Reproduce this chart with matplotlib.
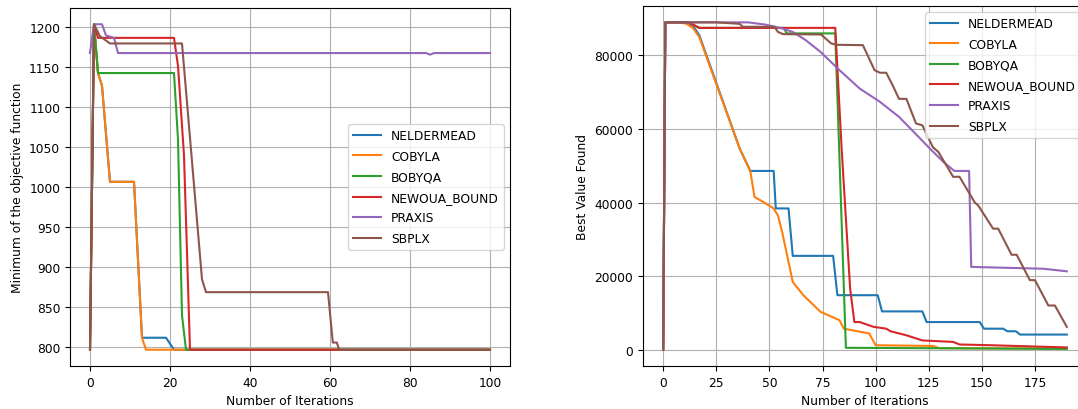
import matplotlib
matplotlib.use("Agg")
import matplotlib.pyplot as plt

names = ["NELDERMEAD", "COBYLA", "BOBYQA", "NEWOUA_BOUND", "PRAXIS", "SBPLX"]

# ---- Left chart: Minimum of the objective function ----
l_nm_x = [0, 1, 2, 3, 5, 11, 13, 19, 21, 100]
l_nm_y = [797, 1204, 1143, 1127, 1007, 1007, 812, 812, 797, 797]
l_co_x = [0, 1, 2, 3, 5, 11, 13, 14, 100]
l_co_y = [797, 1204, 1143, 1127, 1007, 1007, 812, 797, 797]
l_bo_x = [0, 1, 2, 21, 22, 23, 24, 100]
l_bo_y = [797, 1204, 1143, 1143, 1060, 840, 797, 797]
l_ne_x = [0, 1, 2, 21, 22, 23.5, 25, 100]
l_ne_y = [797, 1204, 1187, 1187, 1152, 1040, 797, 797]
l_pr_x = [0, 1, 3, 4, 6, 7, 84, 85, 86, 100]
l_pr_y = [1168, 1204, 1204, 1190, 1187, 1168, 1168, 1166, 1168, 1168]
l_sb_x = [0, 1, 2.5, 5, 23, 28, 29, 59.5, 60.7, 61.7, 62.3, 100]
l_sb_y = [797, 1204, 1189, 1180, 1180, 885, 869, 869, 806, 806, 797, 797]

# ---- Right chart: Best Value Found ----
r_nm_x = [0, 1, 10, 14, 17, 36, 41, 52, 53, 59, 61, 80, 82, 101, 103, 122, 124,
          149, 151, 160, 162, 166, 168, 190]
r_nm_y = [0, 89000, 89000, 88100, 85500, 54700, 48600, 48600, 38400, 38400, 25500,
          25500, 14800, 14800, 10400, 10400, 7500, 7500, 5700, 5700, 5000, 5000,
          4100, 4100]
r_co_x = [0, 1, 8, 11, 14, 17, 36, 41, 43, 47, 52, 54, 56, 61, 66, 74, 83, 85, 97,
          100, 127, 130, 190]
r_co_y = [0, 89000, 89000, 88600, 87500, 85000, 54700, 48600, 41500, 40200, 38400,
          36500, 32000, 18400, 14800, 10300, 8000, 5700, 4400, 1200, 1000, 400, 300]
r_bo_x = [0, 1, 12, 17, 57, 58, 81, 86, 190]
r_bo_y = [0, 89000, 89000, 87500, 87500, 86000, 86000, 500, 200]
r_ne_x = [0, 1, 12, 17, 81, 84, 88, 90, 92.5, 99, 105, 107, 114.5, 122, 136.5,
          139.5, 154, 166, 190]
r_ne_y = [0, 89000, 89000, 87500, 87500, 54700, 16600, 7500, 7500, 6200, 5700,
          5000, 3900, 2500, 2100, 1400, 1200, 1000, 600]
r_pr_x = [0, 1, 40, 48, 55, 61, 67, 74, 83, 92.5, 102, 111, 121, 125.5, 132, 137,
          144, 145, 179, 190]
r_pr_y = [0, 89000, 89000, 88400, 87500, 86400, 84200, 81000, 76000, 71000, 67400,
          63300, 57400, 54700, 51000, 48600, 48600, 22500, 22000, 21300]
r_sb_x = [0, 1, 25, 36, 37.4, 52.4, 54, 56.4, 74.3, 79, 81.4, 94, 99.5, 102, 105,
          108, 111, 114.5, 119, 122, 127, 129.5, 136.5, 139.5, 146.7, 148.3, 155.3,
          157.7, 164, 166.4, 172.6, 175, 181.3, 184.4, 190]
r_sb_y = [0, 89000, 89000, 88600, 87800, 87800, 86400, 85800, 85700, 83300, 82900,
          82800, 76000, 75300, 75300, 71900, 68200, 68200, 61500, 61000, 55000,
          53800, 47000, 47000, 40000, 39200, 32900, 32900, 25800, 25800, 18900,
          18900, 12000, 12000, 6200]

left_series = [(l_nm_x, l_nm_y), (l_co_x, l_co_y), (l_bo_x, l_bo_y),
               (l_ne_x, l_ne_y), (l_pr_x, l_pr_y), (l_sb_x, l_sb_y)]
right_series = [(r_nm_x, r_nm_y), (r_co_x, r_co_y), (r_bo_x, r_bo_y),
                (r_ne_x, r_ne_y), (r_pr_x, r_pr_y), (r_sb_x, r_sb_y)]

plt.rcParams["font.size"] = 8.8

W, H = 1078, 410
fig = plt.figure(figsize=(W / 100, H / 100), dpi=100)
ax1 = fig.add_axes([70 / W, (H - 367) / H, 440 / W, 358 / H])
ax2 = fig.add_axes([643 / W, (H - 367) / H, 444 / W, 360 / H])

for (x, y), n in zip(left_series, names):
    ax1.plot(x, y, label=n)
for (x, y), n in zip(right_series, names):
    ax2.plot(x, y, label=n)

ax1.set_xlabel("Number of Iterations")
ax1.set_ylabel("Minimum of the objective function")
ax1.grid(True)
ax1.legend(loc="center right", labelspacing=0.62, handlelength=2.3)

ax2.set_xlabel("Number of Iterations")
ax2.set_ylabel("Best Value Found")
ax2.set_xticks([0, 25, 50, 75, 100, 125, 150, 175])
ax2.grid(True)
ax2.legend(loc="upper right", labelspacing=0.62, handlelength=2.3)

fig.savefig("out.png", dpi=100)
